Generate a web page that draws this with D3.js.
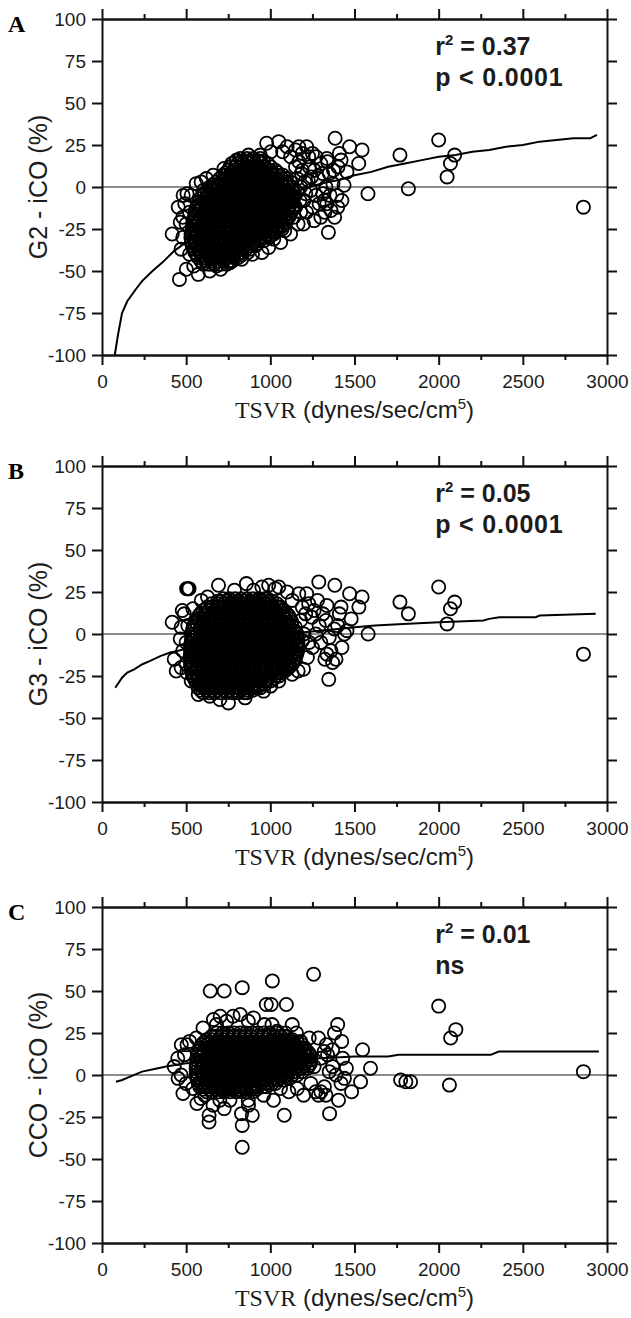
<!DOCTYPE html>
<html lang="en">
<head>
  <meta charset="utf-8">
  <title>TSVR bias plots</title>
  <script src="https://d3js.org/d3.v7.min.js"></script>
  <style>
    body { margin: 0; background: #fff; }
    .tick text { font-family: "Liberation Sans", Arial, Helvetica, sans-serif; font-size: 19px; fill: #1c1c1c; }
    .tick line, .domain { stroke: #111; stroke-width: 2; }
  </style>
</head>
<body>
  <div id="chart"></div>
  <script>
    // axis ticks
    var xTicks = [0, 500, 1000, 1500, 2000, 2500, 3000];
    var xMinor = [250, 750, 1250, 1750, 2250, 2750];
    var yTicks = [-100, -75, -50, -25, 0, 25, 50, 75, 100];

    // panel A: G2 - iCO vs TSVR, scattered rings [tsvr, diff]
    var pointsA = [[2860,-12],[2000,28],[1770,19],[1820,-1],[2095,19],[2070,14],[2050,6],[1580,-4],[1545,22],[1525,14],
      [1471,24],[1385,29],[1345,-27],[1425,-8],[1438,1],[1420,16],[1455,9],[1336,17],[1324,-15],[1336,-10],[1312,-4],
      [1197,-22],[1216,24],[1169,24],[1228,18],[1050,27],[978,26],[1073,21],[1121,18],[1061,-33],[990,-36],[894,-40],
      [680,-47],[572,-52],[501,-49],[460,-55],[417,-28],[453,-12],[465,-21],[505,-4],[482,-5],[589,3],
      [1150,12],[1185,8],[1205,3],[1240,-2],[1262,10],[1285,5],[1300,14],[1350,8],[1372,2],[1395,-5],[1402,12],[1410,20],
      [1360,-14],[1382,-18],[1252,-12],[1180,-15],[1140,-18],[1125,-8],[1160,-3],[1200,-8],[1290,-10],[1272,18],[1232,12],
      [1150,22],[1100,24],[1003,21],[940,19],[870,19],[800,16],[725,11],[660,7],[603,-2],[520,-15],[500,-22],[480,-30],
      [470,-37],[520,-40],[545,-47],[640,-50],[705,-49],[760,-45],[830,-43],[950,-39],[1020,-31],[1085,-26],[1120,-28],
      [1165,-22],[1105,-18],[480,-18],[492,-10],[530,-5],[560,2],[620,5],[1330,0],[1300,-18],[1180,0],[1260,-20],
      [1160,5],[1175,-8],[1190,10],[1210,-4],[1225,4],[1150,-12],[1215,-15],[1245,6],[1270,-5],[1310,8],[1320,-8],
      [1355,-5],[1375,10],[1400,-12],[1340,15],[1250,20],[1190,20],[1170,15]];
    // panel A: solid black mass, rows of [diff, [tsvr...]]
    var coreA = [
      [-46, [602, 636, 668, 705, 741]],
      [-44, [588, 620, 653, 688, 722, 757, 775]],
      [-42, [571, 607, 640, 676, 712, 744, 781, 810]],
      [-40.5, [565, 596, 631, 664, 700, 735, 770, 803, 830]],
      [-39, [552, 584, 621, 655, 688, 726, 760, 793, 829, 866]],
      [-37, [546, 578, 613, 647, 682, 716, 751, 786, 820, 855, 878]],
      [-35, [536, 569, 606, 641, 673, 711, 746, 779, 816, 849, 884, 912]],
      [-33.5, [533, 553, 588, 622, 657, 691, 726, 761, 795, 830, 864, 898, 925]],
      [-32, [531, 556, 591, 624, 661, 694, 731, 764, 801, 834, 871, 903, 938, 962]],
      [-30, [528, 553, 588, 622, 657, 691, 726, 761, 795, 830, 864, 898, 933, 967, 992]],
      [-28, [529, 571, 604, 642, 674, 709, 746, 781, 814, 851, 884, 921, 953, 991, 1020]],
      [-26.5, [535, 557, 591, 626, 660, 695, 729, 764, 798, 833, 867, 902, 936, 971, 1005, 1035]],
      [-25, [538, 556, 589, 626, 659, 696, 729, 766, 799, 836, 869, 906, 939, 976, 1009, 1041, 1070]],
      [-23, [541, 558, 593, 627, 662, 696, 731, 765, 800, 834, 869, 903, 938, 972, 1007, 1041, 1076]],
      [-21, [541, 574, 611, 644, 681, 714, 751, 784, 821, 854, 891, 924, 961, 994, 1031, 1064, 1090]],
      [-19.5, [545, 575, 609, 644, 678, 713, 747, 782, 816, 851, 885, 920, 954, 989, 1023, 1058, 1092]],
      [-18, [549, 591, 624, 661, 694, 731, 764, 801, 834, 871, 904, 941, 974, 1011, 1044, 1081, 1110]],
      [-16, [552, 571, 606, 640, 675, 709, 744, 778, 813, 847, 882, 916, 951, 985, 1020, 1054, 1089, 1118]],
      [-14, [556, 576, 609, 646, 679, 716, 749, 786, 819, 856, 889, 926, 959, 996, 1029, 1066, 1101, 1130]],
      [-12.5, [560, 592, 627, 661, 696, 730, 765, 799, 834, 868, 903, 937, 972, 1006, 1041, 1075, 1110, 1136]],
      [-11, [566, 596, 629, 666, 699, 736, 769, 806, 839, 876, 909, 946, 979, 1016, 1049, 1086, 1112, 1140]],
      [-9, [573, 612, 646, 681, 715, 750, 784, 819, 853, 888, 922, 957, 991, 1026, 1060, 1095, 1125]],
      [-7, [581, 614, 651, 684, 721, 754, 791, 824, 861, 894, 931, 964, 1001, 1034, 1071, 1104, 1138]],
      [-5.5, [594, 631, 665, 700, 734, 769, 803, 838, 872, 907, 941, 976, 1010, 1045, 1079, 1114, 1140]],
      [-4, [608, 636, 669, 706, 739, 776, 809, 846, 879, 916, 949, 986, 1019, 1056, 1089, 1120, 1145]],
      [-2, [624, 652, 686, 721, 755, 790, 824, 859, 893, 928, 962, 997, 1031, 1066, 1100, 1133]],
      [0, [641, 656, 691, 724, 761, 794, 831, 864, 901, 934, 971, 1004, 1041, 1074, 1102, 1130]],
      [1.5, [661, 693, 727, 762, 796, 831, 865, 900, 934, 969, 1003, 1038, 1072, 1105]],
      [3, [679, 711, 744, 781, 814, 851, 884, 921, 954, 991, 1024, 1061, 1090, 1120]],
      [5, [699, 727, 761, 796, 830, 865, 899, 934, 968, 1003, 1037, 1070, 1095]],
      [7, [718, 731, 766, 799, 836, 869, 906, 939, 976, 1009, 1041, 1075]],
      [8.5, [736, 768, 802, 837, 871, 906, 940, 975, 1009, 1045]],
      [10, [751, 786, 819, 856, 889, 926, 959, 999, 1030]],
      [12, [761, 795, 829, 864, 898, 933, 967, 1002]],
      [14, [771, 806, 839, 876, 911, 948, 985]],
      [15.5, [796, 830, 865, 899, 934, 960]],
      [17, [822, 861, 899, 940]]
    ];
    var fitA = [[76,-100],[95,-88],[119,-75],[150,-68],[200,-61],[238,-56],[300,-50],[358,-45],[429,-38],[500,-33],
      [600,-26],[700,-20],[800,-15],[900,-11],[1000,-7],[1100,-4],[1200,-1],[1300,2],[1400,4],[1500,7],[1600,9],
      [1700,12],[1800,14],[1900,16],[2000,18],[2100,19],[2200,21],[2300,22],[2400,24],[2500,25],[2600,27],[2700,28],
      [2800,29],[2900,29],[2940,31]];

    // panel B: G3 - iCO vs TSVR
    var pointsB = [[2860,-12],[2000,28],[1770,19],[1820,12],[2095,19],[2070,15],[2050,6],[1581,0],[1545,22],[1526,16],
      [1471,24],[1383,29],[1288,31],[1347,-27],[1197,-21],[1425,-8],[1455,2],[1420,16],[1480,9],[1336,17],[1312,12],
      [1324,-15],[1336,-12],[1216,24],[1169,24],[1228,18],[1247,10],[1050,28],[990,29],[858,30],[692,29],[787,26],
      [627,22],[503,27],[510,27],[517,27],[477,14],[489,12],[417,7],[465,-3],[429,-15],[441,-22],[505,-23],[572,-36],
      [751,-41],[906,-32],[1002,-31],[1073,-21],
      [1100,25],[1030,27],[950,28],[900,26],[1130,20],[1190,16],[1260,14],[1290,5],[1300,-5],[1360,-10],[1370,-17],
      [1400,5],[1410,12],[1380,3],[1250,-8],[1220,-14],[1190,-4],[1165,-22],[1130,-24],[1050,-28],[960,-34],[850,-38],
      [700,-39],[640,-37],[580,-30],[530,-28],[500,-18],[480,-10],[470,-20],[500,-5],[510,5],[540,15],[590,20],[470,4],
      [1180,8],[1200,0],[1230,-5],[1270,0],[1330,8],[1350,-2],[1390,-15],[1440,0],[1210,12],[1280,20]];
    var coreB = [
      [-35, [601, 636, 669, 706, 739, 776, 809, 846, 862]],
      [-33.5, [586, 620, 653, 688, 722, 757, 792, 826, 861, 895]],
      [-32, [571, 604, 641, 674, 711, 744, 781, 814, 851, 884, 921, 942]],
      [-30, [563, 589, 623, 658, 692, 727, 761, 796, 830, 865, 899, 934, 968]],
      [-28, [556, 589, 626, 659, 696, 729, 766, 799, 836, 869, 906, 939, 976, 1001]],
      [-26.5, [548, 574, 608, 643, 677, 712, 746, 781, 815, 850, 884, 919, 953, 988, 1022]],
      [-25, [541, 574, 611, 644, 681, 714, 751, 784, 821, 854, 891, 924, 961, 994, 1031, 1052]],
      [-23, [536, 562, 596, 631, 665, 700, 734, 769, 803, 838, 872, 907, 941, 976, 1010, 1045, 1074]],
      [-21, [531, 559, 596, 629, 666, 699, 736, 769, 806, 839, 876, 909, 946, 979, 1016, 1049, 1086, 1101]],
      [-19.5, [528, 562, 597, 631, 666, 700, 735, 769, 804, 838, 873, 907, 942, 976, 1011, 1045, 1080, 1114]],
      [-18, [526, 544, 581, 614, 651, 684, 721, 754, 791, 824, 861, 894, 931, 964, 1001, 1034, 1071, 1104, 1131]],
      [-16, [525, 562, 597, 631, 666, 700, 735, 769, 804, 838, 873, 907, 942, 976, 1011, 1045, 1080, 1114, 1140]],
      [-14, [524, 559, 596, 629, 666, 699, 736, 769, 806, 839, 876, 909, 946, 979, 1016, 1049, 1086, 1119, 1150]],
      [-12.5, [525, 543, 578, 612, 647, 681, 716, 750, 785, 819, 854, 888, 923, 957, 992, 1026, 1061, 1095, 1130, 1155]],
      [-11, [527, 544, 581, 614, 651, 684, 721, 754, 791, 824, 861, 894, 931, 964, 1001, 1034, 1071, 1104, 1141, 1160]],
      [-9, [526, 543, 578, 612, 647, 681, 716, 750, 785, 819, 854, 888, 923, 957, 992, 1026, 1061, 1095, 1130, 1162]],
      [-7, [526, 561, 596, 631, 666, 701, 736, 771, 806, 841, 876, 911, 946, 981, 1016, 1051, 1086, 1121, 1156, 1166]],
      [-5.5, [528, 563, 598, 633, 668, 703, 738, 773, 808, 843, 878, 913, 948, 983, 1018, 1053, 1088, 1123, 1158]],
      [-4, [531, 546, 581, 616, 651, 686, 721, 756, 791, 826, 861, 896, 931, 966, 1001, 1036, 1071, 1106, 1141, 1165]],
      [-2, [533, 548, 583, 618, 653, 688, 723, 758, 793, 828, 863, 898, 933, 968, 1003, 1038, 1073, 1108, 1143, 1162]],
      [0, [536, 566, 601, 636, 671, 706, 741, 776, 811, 846, 881, 916, 951, 986, 1021, 1056, 1091, 1126, 1159]],
      [2, [538, 583, 618, 653, 688, 723, 758, 793, 828, 863, 898, 933, 968, 1003, 1038, 1073, 1108, 1143]],
      [4, [541, 584, 619, 654, 689, 724, 759, 794, 829, 864, 899, 934, 969, 1004, 1039, 1074, 1109, 1149]],
      [5.5, [548, 566, 601, 636, 671, 706, 741, 776, 811, 846, 881, 916, 951, 986, 1021, 1056, 1091, 1126]],
      [7, [556, 601, 636, 671, 706, 741, 776, 811, 846, 881, 916, 951, 986, 1021, 1056, 1091, 1129]],
      [9, [566, 601, 636, 671, 706, 741, 776, 811, 846, 881, 916, 951, 986, 1021, 1056, 1091, 1118]],
      [11, [576, 619, 654, 689, 724, 759, 794, 829, 864, 899, 934, 969, 1004, 1039, 1074, 1108]],
      [12.5, [588, 619, 654, 689, 724, 759, 794, 829, 864, 899, 934, 969, 1004, 1039, 1074, 1094]],
      [14, [601, 636, 671, 706, 741, 776, 811, 846, 881, 916, 951, 986, 1021, 1056, 1079]],
      [16, [626, 654, 689, 724, 759, 794, 829, 864, 899, 934, 969, 1004, 1039, 1060]],
      [18, [651, 689, 724, 759, 794, 829, 864, 899, 934, 969, 1004, 1039]],
      [19.5, [686, 706, 741, 776, 811, 846, 881, 916, 951, 986, 1010]],
      [21, [721, 756, 791, 826, 861, 896, 931, 966, 981]]
    ];
    var fitB = [[79,-32],[119,-26],[150,-23],[191,-21],[240,-18],[286,-16],[350,-13],[405,-11],[453,-10],[600,-6],
      [800,-3],[1000,-1],[1200,1],[1400,3],[1503,4],[1622,5],[1789,6],[2003,7],[2266,8],[2300,9],[2361,10],[2576,10],
      [2600,11],[2933,12]];

    // panel C: CCO - iCO vs TSVR
    var pointsC = [[2860,2],[2000,41],[2102,27],[2071,22],[2064,-6],[1774,-3],[1805,-4],[1833,-4],[1595,4],[1548,15],
      [1536,-4],[1483,-10],[1452,4],[1424,20],[1400,30],[1381,25],[1352,-23],[1405,-15],[1286,-12],[1321,-7],[1198,-12],
      [1257,60],[1012,56],[976,42],[1005,42],[1095,42],[833,52],[726,50],[643,50],[1083,-24],[1019,-15],[833,-43],
      [833,-30],[829,-23],[893,-24],[869,-15],[726,-20],[636,-28],[636,-24],[564,-17],[588,-14],[481,-11],[452,-2],
      [429,5],[471,18],[505,18],[662,33],[702,35],[779,35],[821,36],[869,32],[964,30],[1090,25],[1155,25],[1231,22],
      [1286,22],[1333,18],
      [1300,10],[1340,12],[1370,5],[1390,0],[1420,-5],[1440,-2],[1350,2],[1330,-12],[1270,-10],[1240,-5],[1300,-10],
      [1160,-8],[1110,-10],[1060,-8],[960,-12],[900,-10],[870,-18],[760,-15],[700,-15],[660,-18],[610,-12],[540,-8],
      [500,-5],[470,0],[450,10],[490,12],[520,20],[560,22],[600,28],[680,30],[740,32],[900,34],[1010,30],[1040,26],
      [1180,20],[1130,30],[1320,14],[1260,5],[1370,15],[1430,10]];
    var coreC = [
      [-10, [621, 656, 691, 726, 761, 796, 831, 859]],
      [-8.5, [601, 639, 674, 709, 744, 779, 814, 849, 884, 918]],
      [-7, [581, 606, 641, 676, 711, 746, 781, 816, 851, 886, 921, 956, 979]],
      [-5, [573, 589, 624, 659, 694, 729, 764, 799, 834, 869, 904, 939, 974, 1009, 1030]],
      [-3, [566, 589, 624, 659, 694, 729, 764, 799, 834, 869, 904, 939, 974, 1009, 1044, 1079]],
      [-1.5, [563, 606, 641, 676, 711, 746, 781, 816, 851, 886, 921, 956, 991, 1026, 1061, 1096, 1120]],
      [0, [561, 606, 641, 676, 711, 746, 781, 816, 851, 886, 921, 956, 991, 1026, 1061, 1096, 1131, 1159]],
      [2, [560, 589, 624, 659, 694, 729, 764, 799, 834, 869, 904, 939, 974, 1009, 1044, 1079, 1114, 1149, 1188]],
      [4, [559, 589, 624, 659, 694, 729, 764, 799, 834, 869, 904, 939, 974, 1009, 1044, 1079, 1114, 1149, 1184, 1219]],
      [5.5, [560, 606, 641, 676, 711, 746, 781, 816, 851, 886, 921, 956, 991, 1026, 1061, 1096, 1131, 1166, 1201, 1229]],
      [7, [561, 606, 641, 676, 711, 746, 781, 816, 851, 886, 921, 956, 991, 1026, 1061, 1096, 1131, 1166, 1201, 1239]],
      [9, [563, 589, 624, 659, 694, 729, 764, 799, 834, 869, 904, 939, 974, 1009, 1044, 1079, 1114, 1149, 1184, 1219, 1240]],
      [11, [566, 589, 624, 659, 694, 729, 764, 799, 834, 869, 904, 939, 974, 1009, 1044, 1079, 1114, 1149, 1184, 1219, 1241]],
      [12.5, [571, 606, 641, 676, 711, 746, 781, 816, 851, 886, 921, 956, 991, 1026, 1061, 1096, 1131, 1166, 1201, 1232]],
      [14, [576, 606, 641, 676, 711, 746, 781, 816, 851, 886, 921, 956, 991, 1026, 1061, 1096, 1131, 1166, 1201, 1221]],
      [16, [583, 624, 659, 694, 729, 764, 799, 834, 869, 904, 939, 974, 1009, 1044, 1079, 1114, 1149, 1184, 1205]],
      [18, [591, 624, 659, 694, 729, 764, 799, 834, 869, 904, 939, 974, 1009, 1044, 1079, 1114, 1149, 1189]],
      [19.5, [606, 641, 676, 711, 746, 781, 816, 851, 886, 921, 956, 991, 1026, 1061, 1096, 1131, 1160]],
      [21, [621, 656, 691, 726, 761, 796, 831, 866, 901, 936, 971, 1006, 1041, 1076, 1111, 1131]],
      [23, [651, 676, 711, 746, 781, 816, 851, 886, 921, 956, 991, 1026, 1061, 1084]],
      [25, [681, 716, 751, 786, 821, 856, 891, 926, 961, 996, 1039]]
    ];
    var fitC = [[83,-4],[120,-3],[167,-1],[238,2],[333,4],[381,5],[500,7],[700,8],[900,9],[1100,10],[1300,10],
      [1500,11],[1700,11],[1762,12],[2000,12],[2310,12],[2357,14],[2952,14]];

    var panels = [
      { letter: "A", ylabel: "G2 - iCO (%)", r2: "0.37", sig: "p < 0.0001", points: pointsA, core: coreA, fit: fitA, top: 19 },
      { letter: "B", ylabel: "G3 - iCO (%)", r2: "0.05", sig: "p < 0.0001", points: pointsB, core: coreB, fit: fitB, top: 466 },
      { letter: "C", ylabel: "CCO - iCO (%)", r2: "0.01", sig: "ns", points: pointsC, core: coreC, fit: fitC, top: 907 }
    ];

    var sans = '"Liberation Sans", Arial, Helvetica, sans-serif';
    var serif = '"Liberation Serif", "Times New Roman", Times, serif';
    var left = 102, width = 505, height = 336;
    var plain = function (d) { return String(d); };

    var svg = d3.select("#chart").append("svg")
      .attr("width", 631)
      .attr("height", 1318)
      .style("background", "#fff");

    var x = d3.scaleLinear().domain([0, 3000]).range([0, width]);
    var y = d3.scaleLinear().domain([-100, 100]).range([height, 0]);

    panels.forEach(function (p) {
      var g = svg.append("g").attr("transform", "translate(" + left + "," + p.top + ")");

      // zero reference line
      g.append("line")
        .attr("x1", 0).attr("x2", width)
        .attr("y1", y(0)).attr("y2", y(0))
        .attr("stroke", "#8c8c8c").attr("stroke-width", 2);

      // rings
      var pts = p.points.concat(p.core.flatMap(function (row) {
        return row[1].map(function (xv) { return [xv, row[0]]; });
      }));
      g.append("g").selectAll("circle").data(pts).enter()
        .append("circle")
        .attr("cx", function (d) { return x(d[0]); })
        .attr("cy", function (d) { return y(d[1]); })
        .attr("r", 6.6)
        .attr("fill", "none")
        .attr("stroke", "#000")
        .attr("stroke-width", 1.8);

      // regression curve
      g.append("path")
        .datum(p.fit)
        .attr("fill", "none")
        .attr("stroke", "#000")
        .attr("stroke-width", 2)
        .attr("d", d3.line().x(function (d) { return x(d[0]); }).y(function (d) { return y(d[1]); }));

      // axes: labelled left & bottom, bare ticks on top & right
      g.append("g").call(d3.axisLeft(y).tickValues(yTicks).tickSize(10).tickSizeOuter(0).tickPadding(6).tickFormat(plain));
      g.append("g").attr("transform", "translate(" + width + ",0)")
        .call(d3.axisRight(y).tickValues(yTicks).tickSize(10).tickSizeOuter(0).tickFormat(""));
      g.append("g").attr("transform", "translate(0," + height + ")")
        .call(d3.axisBottom(x).tickValues(xTicks).tickSize(10).tickSizeOuter(0).tickPadding(10).tickFormat(plain));
      g.append("g").attr("transform", "translate(0," + height + ")")
        .call(d3.axisBottom(x).tickValues(xMinor).tickSize(5).tickSizeOuter(0).tickFormat(""));
      g.append("g").call(d3.axisTop(x).tickValues(xTicks).tickSize(10).tickSizeOuter(0).tickFormat(""));
      g.append("g").call(d3.axisTop(x).tickValues(xMinor).tickSize(5).tickSizeOuter(0).tickFormat(""));

      // panel letter
      svg.append("text")
        .attr("x", 8).attr("y", p.top + 13)
        .attr("font-family", serif).attr("font-weight", "bold").attr("font-size", 24)
        .text(p.letter);

      // y label
      svg.append("text")
        .attr("transform", "translate(" + 47 + "," + (p.top + height / 2) + ") rotate(-90)")
        .attr("text-anchor", "middle")
        .attr("font-family", sans).attr("font-size", 25).attr("fill", "#1c1c1c")
        .text(p.ylabel);

      // x label
      var xl = svg.append("text")
        .attr("x", left + width / 2).attr("y", p.top + height + 63)
        .attr("text-anchor", "middle")
        .attr("font-size", 24).attr("fill", "#1c1c1c");
      xl.append("tspan").attr("font-family", serif).text("TSVR");
      xl.append("tspan").attr("font-family", sans).text(" (dynes/sec/cm");
      xl.append("tspan").attr("font-family", sans).attr("font-size", 15).attr("dy", -9).text("5");
      xl.append("tspan").attr("font-family", sans).attr("dy", 9).text(")");

      // statistics
      var st = svg.append("text")
        .attr("x", left + x(1980)).attr("y", p.top + 36)
        .attr("font-family", sans).attr("font-weight", "bold").attr("font-size", 25).attr("fill", "#1c1c1c");
      st.append("tspan").text("r");
      st.append("tspan").attr("font-size", 15).attr("dy", -10).text("2");
      st.append("tspan").attr("dy", 10).text(" = " + p.r2);
      svg.append("text")
        .attr("x", left + x(1980)).attr("y", p.top + 67)
        .attr("font-family", sans).attr("font-weight", "bold")
        .attr("font-size", 25).attr("fill", "#1c1c1c")
        .attr("letter-spacing", p.sig === "ns" ? 0 : 0.8)
        .text(p.sig);
    });
  </script>
</body>
</html>
